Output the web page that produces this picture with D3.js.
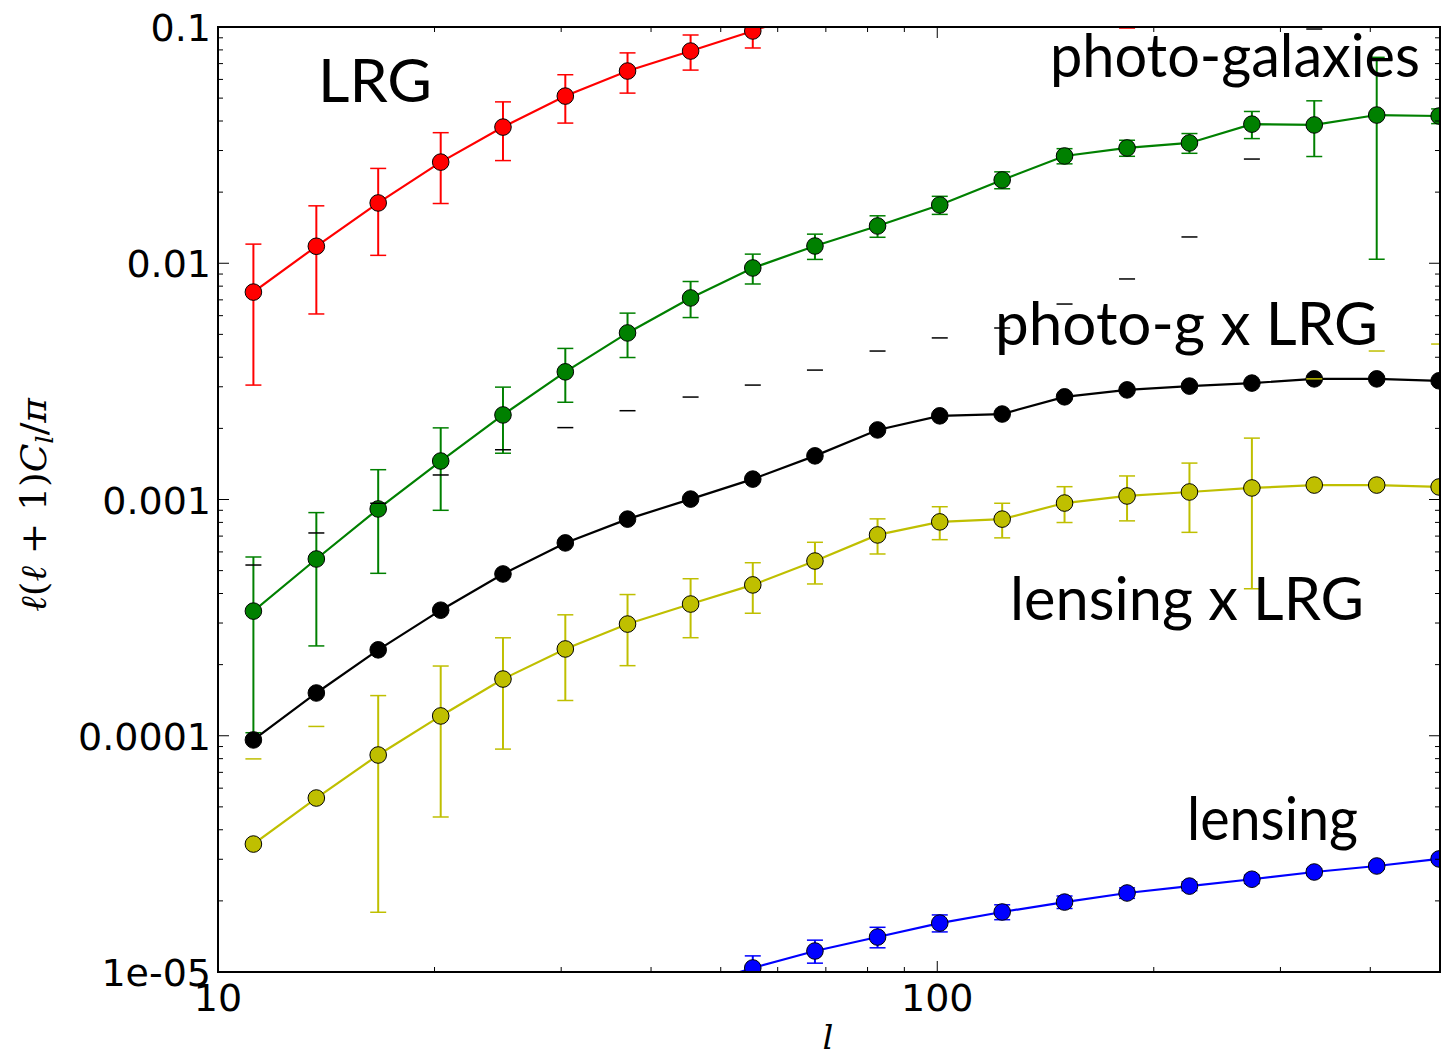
<!DOCTYPE html>
<html>
<head>
<meta charset="utf-8">
<script src="https://cdn.jsdelivr.net/npm/d3@7"></script>
<style>
  html, body { margin: 0; padding: 0; background: #fff; }
  svg { display: block; }
</style>
</head>
<body>
<div id="chart"></div>
<script>
// multipole centres (shared by all series)
const ELLS = [11.2, 13.7, 16.7, 20.4, 24.9, 30.4, 37.1, 45.4, 55.4, 67.6, 82.6, 100.8, 123.1, 150.3, 183.6, 224.2, 273.8, 334.3, 408.3, 498.6];

// LRG auto spectrum (runs off the top of the axes after ~55)
const lrgVals = [0.00755, 0.0118, 0.0180, 0.0268, 0.0377, 0.0510, 0.0651, 0.0791, 0.0962, 0.118, 0.135, 0.150, 0.165, 0.178, 0.190];
const lrgErr = [0.0045, 0.0057, 0.0072, 0.0089, 0.0105, 0.0118, 0.0126, 0.0134, 0.0147, 0.016, 0.02, 0.03, 0.045, 0.06, 0.091];

// photo-galaxies
const photoVals = [3.37e-4, 5.60e-4, 9.12e-4, 1.455e-3, 2.28e-3, 3.47e-3, 5.07e-3, 7.13e-3, 9.55e-3, 0.01183, 0.01438, 0.01765, 0.02252, 0.02845, 0.03076, 0.0323, 0.0388, 0.0385, 0.0424, 0.0420];
const photoErr = [2.34e-4, 3.2e-4, 4.25e-4, 5.55e-4, 7.1e-4, 8.9e-4, 1.08e-3, 1.24e-3, 1.38e-3, 1.45e-3, 1.5e-3, 1.55e-3, 1.85e-3, 2.1e-3, 2.4e-3, 3.1e-3, 5.1e-3, 1.02e-2, 3.2e-2, 3e-3];

// photo-g x LRG
const crossVals = [9.6e-5, 1.517e-4, 2.31e-4, 3.40e-4, 4.84e-4, 6.55e-4, 8.26e-4, 1.004e-3, 1.22e-3, 1.53e-3, 1.97e-3, 2.26e-3, 2.30e-3, 2.72e-3, 2.91e-3, 3.02e-3, 3.11e-3, 3.24e-3, 3.24e-3, 3.18e-3];
const crossErr = [4.32e-4, 5.7e-4, 7.33e-4, 9.3e-4, 1.14e-3, 1.36e-3, 1.55e-3, 1.71e-3, 1.83e-3, 2.0e-3, 2.28e-3, 2.57e-3, 3.02e-3, 4.0e-3, 5.67e-3, 9.9e-3, 0.0245, 0.0948, 0.15, 0.2];

// lensing x LRG
const lensCrossVals = [3.48e-5, 5.45e-5, 8.29e-5, 1.213e-4, 1.738e-4, 2.33e-4, 2.97e-4, 3.61e-4, 4.35e-4, 5.49e-4, 7.08e-4, 8.04e-4, 8.26e-4, 9.66e-4, 1.035e-3, 1.076e-3, 1.119e-3, 1.151e-3, 1.151e-3, 1.13e-3];
const lensCrossErr = [4.5e-5, 5.5e-5, 6.5e-5, 7.6e-5, 8.6e-5, 9.2e-5, 9.9e-5, 1.01e-4, 1.05e-4, 1.1e-4, 1.2e-4, 1.28e-4, 1.38e-4, 1.67e-4, 2.23e-4, 3.5e-4, 7.0e-4, 2.09e-3, 3.1e-3, 3.42e-3];

// lensing auto spectrum (starts at ELLS[7], below the axes at first)
const LENS_START = 7;
const lensVals = [8.6e-6, 1.04e-5, 1.227e-5, 1.406e-5, 1.611e-5, 1.795e-5, 1.977e-5, 2.16e-5, 2.31e-5, 2.47e-5, 2.65e-5, 2.81e-5, 3.01e-5];
const lensErr = [1.2e-6, 1.3e-6, 1.37e-6, 1.4e-6, 1.33e-6, 1.3e-6, 1.2e-6, 1.1e-6, 1.0e-6, 1.0e-6, 0.9e-6, 0.9e-6, 0.9e-6];

const Y_TICKS = [0.1, 0.01, 0.001, 0.0001, 0.00001];
const Y_TICK_LABELS = ['0.1', '0.01', '0.001', '0.0001', '1e-05'];
const X_TICKS = [10, 100];
const X_TICK_LABELS = ['10', '100'];

const WIDTH = 1447;
const HEIGHT = 1056;
const LEFT = 218, RIGHT = 1440, TOP = 27, BOTTOM = 972;
const MARKER_R = 8.3;
const CAP_HALF = 8;

const series = [
    {vals: lrgVals, err: lrgErr, start: 0, color: '#ff0000'},
    {vals: photoVals, err: photoErr, start: 0, color: '#008000'},
    {vals: crossVals, err: crossErr, start: 0, color: '#000000'},
    {vals: lensCrossVals, err: lensCrossErr, start: 0, color: '#bfbf00'},
    {vals: lensVals, err: lensErr, start: LENS_START, color: '#0000ff'}
];

const x = d3.scaleLog().domain([10, 500]).range([LEFT, RIGHT]);
const y = d3.scaleLog().domain([1e-5, 0.1]).range([BOTTOM, TOP]);

const svg = d3.select('#chart').append('svg')
    .attr('width', WIDTH)
    .attr('height', HEIGHT);

svg.append('defs').append('clipPath').attr('id', 'plot-clip')
    .append('rect')
    .attr('x', LEFT).attr('y', TOP)
    .attr('width', RIGHT - LEFT).attr('height', BOTTOM - TOP);

// turn a series into points
series.forEach(s => {
    s.points = s.vals.map((v, i) => ({l: ELLS[s.start + i], v: v, e: s.err[i]}));
});

const plot = svg.append('g').attr('clip-path', 'url(#plot-clip)');

// vertical error segments go underneath everything (matplotlib collection zorder)
// a bar whose lower end is <= 0 vanishes on a log axis, only its upper cap stays
series.forEach(s => {
    plot.append('g')
        .selectAll('line')
        .data(s.points.filter(p => p.v - p.e > 0))
        .join('line')
        .attr('x1', d => x(d.l)).attr('x2', d => x(d.l))
        .attr('y1', d => y(d.v + d.e)).attr('y2', d => y(d.v - d.e))
        .attr('stroke', s.color)
        .attr('stroke-width', 2);
});

const line = d3.line().x(d => x(d.l)).y(d => y(d.v));

series.forEach(s => {
    const g = plot.append('g');

    const caps = [];
    s.points.forEach(p => {
        caps.push({l: p.l, v: p.v + p.e});
        if (p.v - p.e > 0) caps.push({l: p.l, v: p.v - p.e});
    });
    g.selectAll('line.cap')
        .data(caps)
        .join('line')
        .attr('class', 'cap')
        .attr('x1', d => x(d.l) - CAP_HALF).attr('x2', d => x(d.l) + CAP_HALF)
        .attr('y1', d => y(d.v)).attr('y2', d => y(d.v))
        .attr('stroke', s.color)
        .attr('stroke-width', 1.5);

    g.append('path')
        .datum(s.points)
        .attr('d', line)
        .attr('fill', 'none')
        .attr('stroke', s.color)
        .attr('stroke-width', 2.2);

    g.selectAll('circle')
        .data(s.points)
        .join('circle')
        .attr('cx', d => x(d.l))
        .attr('cy', d => y(d.v))
        .attr('r', MARKER_R)
        .attr('fill', s.color)
        .attr('stroke', '#000')
        .attr('stroke-width', 1);
});

// ticks on all four sides, pointing inwards
const ticks = svg.append('g').attr('stroke', '#000').attr('stroke-width', 1);

const yMinor = [];
for (let e = -5; e < -1; e++) {
    for (let k = 2; k <= 9; k++) yMinor.push(k * Math.pow(10, e));
}
const xMinor = [20, 30, 40, 50, 60, 70, 80, 90, 200, 300, 400];

function yTicks(vals, len) {
    vals.forEach(v => {
        ticks.append('line').attr('x1', LEFT).attr('x2', LEFT + len).attr('y1', y(v)).attr('y2', y(v));
        ticks.append('line').attr('x1', RIGHT).attr('x2', RIGHT - len).attr('y1', y(v)).attr('y2', y(v));
    });
}
function xTicks(vals, len) {
    vals.forEach(v => {
        ticks.append('line').attr('y1', BOTTOM).attr('y2', BOTTOM - len).attr('x1', x(v)).attr('x2', x(v));
        ticks.append('line').attr('y1', TOP).attr('y2', TOP + len).attr('x1', x(v)).attr('x2', x(v));
    });
}
yTicks(Y_TICKS, 11);
yTicks(yMinor, 5);
xTicks(X_TICKS, 11);
xTicks(xMinor, 5);

// frame
svg.append('rect')
    .attr('x', LEFT).attr('y', TOP)
    .attr('width', RIGHT - LEFT).attr('height', BOTTOM - TOP)
    .attr('fill', 'none')
    .attr('stroke', '#000')
    .attr('stroke-width', 2);

// tick labels
svg.append('g')
    .selectAll('text')
    .data(Y_TICKS)
    .join('text')
    .attr('x', 211)
    .attr('y', d => y(d) + 14)
    .attr('text-anchor', 'end')
    .attr('font-family', 'DejaVu Sans')
    .attr('font-size', 38)
    .text((d, i) => Y_TICK_LABELS[i]);

svg.append('g')
    .selectAll('text')
    .data(X_TICKS)
    .join('text')
    .attr('x', d => x(d))
    .attr('y', 1011)
    .attr('text-anchor', 'middle')
    .attr('font-family', 'DejaVu Sans')
    .attr('font-size', 38)
    .text((d, i) => X_TICK_LABELS[i]);

// axis labels
svg.append('text')
    .attr('x', 828)
    .attr('y', 1049)
    .attr('text-anchor', 'middle')
    .attr('font-family', 'DejaVu Serif')
    .attr('font-style', 'italic')
    .attr('font-size', 34)
    .text('l');

const yLab = svg.append('text')
    .attr('transform', 'translate(46,505) rotate(-90)')
    .attr('text-anchor', 'middle')
    .attr('font-family', 'DejaVu Serif')
    .attr('font-size', 36)
    .attr('textLength', 214)
    .attr('lengthAdjust', 'spacingAndGlyphs');
yLab.append('tspan').attr('font-style', 'italic').text('ℓ');
yLab.append('tspan').text('(');
yLab.append('tspan').attr('font-style', 'italic').text('ℓ');
yLab.append('tspan').text(' + 1)');
yLab.append('tspan').attr('font-style', 'italic').text('C');
yLab.append('tspan').attr('font-style', 'italic').attr('font-size', 25).attr('dy', 7).text('l');
yLab.append('tspan').attr('dy', -7).text('/');
yLab.append('tspan').attr('font-style', 'italic').text('π');

// curve annotations
const notes = [
    {text: 'LRG', x: 318, y: 102, len: 114},
    {text: 'photo-galaxies', x: 1050, y: 77, len: 370},
    {text: 'photo-g x LRG', x: 995, y: 345, len: 383},
    {text: 'lensing x LRG', x: 1010, y: 620, len: 354},
    {text: 'lensing', x: 1187, y: 840, len: 171}
];
svg.append('g')
    .selectAll('text')
    .data(notes)
    .join('text')
    .attr('x', d => d.x)
    .attr('y', d => d.y)
    .attr('font-family', 'Lato')
    .attr('font-size', 60)
    .attr('textLength', d => d.len)
    .attr('lengthAdjust', 'spacingAndGlyphs')
    .attr('fill', '#000')
    .text(d => d.text);
</script>
</body>
</html>
